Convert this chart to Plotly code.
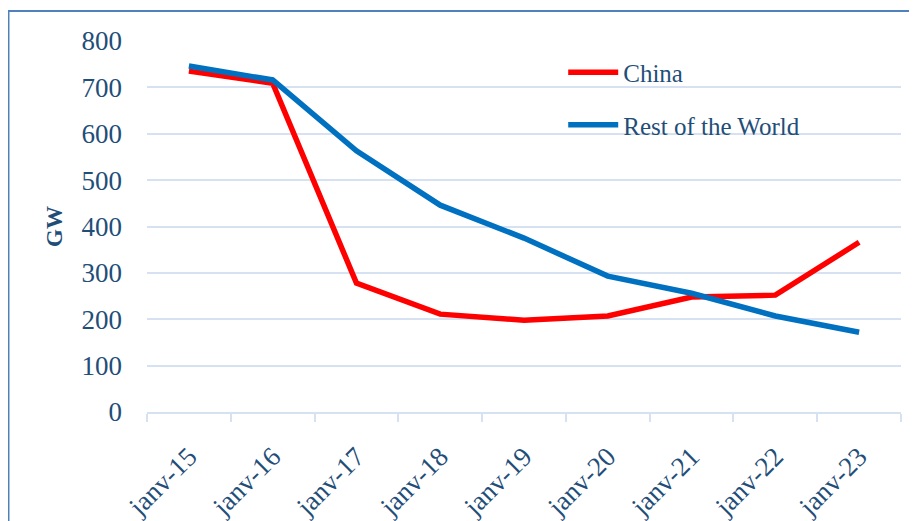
import plotly.graph_objects as go

categories = ["janv-15", "janv-16", "janv-17", "janv-18", "janv-19",
              "janv-20", "janv-21", "janv-22", "janv-23"]
china = [735, 709, 278, 211, 198, 207, 248, 252, 366]
rest_of_world = [746, 716, 563, 446, 375, 293, 256, 207, 172]
y_ticks = [0, 100, 200, 300, 400, 500, 600, 700, 800]

text_color = "#1F4E79"
grid_color = "#D6E1F2"
font_family = "Liberation Serif"

fig = go.Figure()
fig.add_trace(go.Scatter(x=categories, y=china, mode="lines", name="China",
                         legendgroup="china",
                         line=dict(color="#FF0000", width=5.5)))
fig.add_trace(go.Scatter(x=categories, y=rest_of_world, mode="lines",
                         name="Rest of the World", legendgroup="row",
                         line=dict(color="#0070C0", width=5.5)))

fig.update_layout(
    width=909, height=513,
    margin=dict(l=139, r=16, t=33, b=109),
    paper_bgcolor="white", plot_bgcolor="white",
    font=dict(family=font_family, color=text_color),
    showlegend=True,
    legend=dict(x=0.552, y=0.977, xanchor="left", yanchor="top",
                font=dict(size=25, color=text_color),
                bgcolor="rgba(0,0,0,0)", tracegroupgap=17,
                traceorder="grouped", itemwidth=50),
    shapes=[dict(type="rect", xref="paper", yref="paper",
                 x0=-0.1837, x1=1.08, y0=-0.4, y1=1.0809,
                 line=dict(color="#4F81BD", width=2), fillcolor="rgba(0,0,0,0)",
                 layer="below")],
)

fig.update_xaxes(
    type="category", range=[-0.5, 8.5], automargin=False,
    showgrid=False, showline=True, linecolor=grid_color, linewidth=2,
    ticks="outside", tickson="boundaries", ticklen=8, tickcolor=grid_color,
    tickwidth=2, tickangle=-45, ticklabelstandoff=16,
    tickfont=dict(size=27, color=text_color, family=font_family),
)
fig.update_yaxes(
    range=[0, 800], tickvals=y_ticks, automargin=False,
    showgrid=True, gridcolor=grid_color, gridwidth=2,
    zeroline=False, showline=False, ticks="",
    ticklabelstandoff=24,
    tickfont=dict(size=27, color=text_color, family=font_family),
    title=dict(text="<b>GW</b>", font=dict(size=23, color=text_color, family=font_family),
               standoff=12),
)

fig.write_html("out.html")
